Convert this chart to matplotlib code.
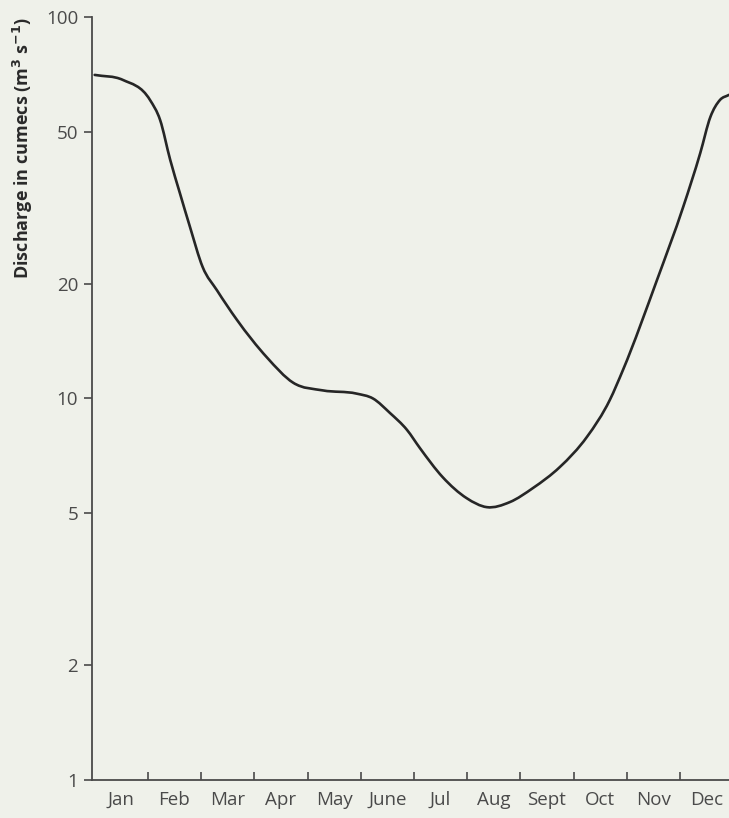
import numpy as np
import matplotlib.pyplot as plt
from matplotlib.path import Path
from matplotlib.patches import PathPatch

months = ['Jan', 'Feb', 'Mar', 'Apr', 'May', 'June', 'Jul', 'Aug', 'Sept', 'Oct', 'Nov', 'Dec']
yticks = [1, 2, 5, 10, 20, 50, 100]

# position along the year (in months from 1 Jan) and discharge (cumecs)
t = [0.0, 0.53, 1.04, 1.23, 1.42, 1.60, 1.79, 2.03, 2.30, 2.67, 3.24, 3.73,
     4.29, 4.92, 5.23, 5.55, 5.87, 6.11, 6.54, 6.99, 7.37, 7.80, 8.24, 8.74,
     9.25, 9.68, 9.93, 10.57, 11.06, 11.38, 11.57, 11.75, 11.92]
q = [70.5, 68.4, 60.6, 53.7, 42.2, 34.6, 28.2, 22.1, 19.2, 16.1, 12.8, 11.0,
     10.5, 10.3, 10.0, 9.16, 8.27, 7.42, 6.22, 5.48, 5.19, 5.35, 5.83, 6.61,
     7.93, 9.91, 11.9, 20.5, 31.8, 44.0, 54.7, 60.6, 62.5]

plt.rcParams['font.family'] = ['Open Sans', 'DejaVu Sans']
bg = '#eff1ea'
ink = '#4a4a4a'

fig = plt.figure(figsize=(7.29, 8.18), dpi=100, facecolor=bg)
ax = fig.add_axes([92/729, 38/818, 637/729, 763/818], facecolor=bg)

# smooth curve through the points: cubic Hermite segments drawn as Beziers (log space)
x = np.array(t)
y = np.log10(q)
slope = np.gradient(y, x)
verts = [(x[0], q[0])]
codes = [Path.MOVETO]
for i in range(len(x) - 1):
    h = x[i+1] - x[i]
    pts = [(x[i] + h/3, y[i] + slope[i]*h/3),
           (x[i+1] - h/3, y[i+1] - slope[i+1]*h/3),
           (x[i+1], y[i+1])]
    for cx, cy in pts:
        verts.append((cx, 10 ** cy))
        codes.append(Path.CURVE4)
ax.add_patch(PathPatch(Path(verts, codes), fill=False, edgecolor='#262626',
                       lw=1.9, capstyle='round'))

ax.set_yscale('log')
ax.set_ylim(1, 100)
ax.set_xlim(-0.05, 11.92)
ax.set_yticks(yticks)
ax.set_yticklabels([str(v) for v in yticks])
ax.yaxis.set_minor_locator(plt.NullLocator())

ax.set_xticks([i + 0.5 for i in range(12)])
ax.set_xticklabels(months)
ax.set_xticks(range(1, 12), minor=True)
ax.tick_params(axis='x', which='major', length=0, pad=8, labelsize=13.5, labelcolor=ink)
ax.tick_params(axis='x', which='minor', direction='in', length=6, width=1.2, color=ink)
ax.tick_params(axis='y', which='major', direction='out', length=6, width=1.2, color=ink,
               pad=4, labelsize=13.5, labelcolor=ink)

for s in ['top', 'right']:
    ax.spines[s].set_visible(False)
for s in ['left', 'bottom']:
    ax.spines[s].set_color(ink)
    ax.spines[s].set_linewidth(1.3)

fig.text(23/729, 1 - 148/818, 'Discharge in cumecs (m$^{\\mathbf{3}}$ s$^{\\mathbf{-1}}$)',
         rotation=90, ha='center', va='center', fontsize=13, fontweight='bold',
         color='#2a2a2a')

fig.savefig('out.png', dpi=100, facecolor=bg)
